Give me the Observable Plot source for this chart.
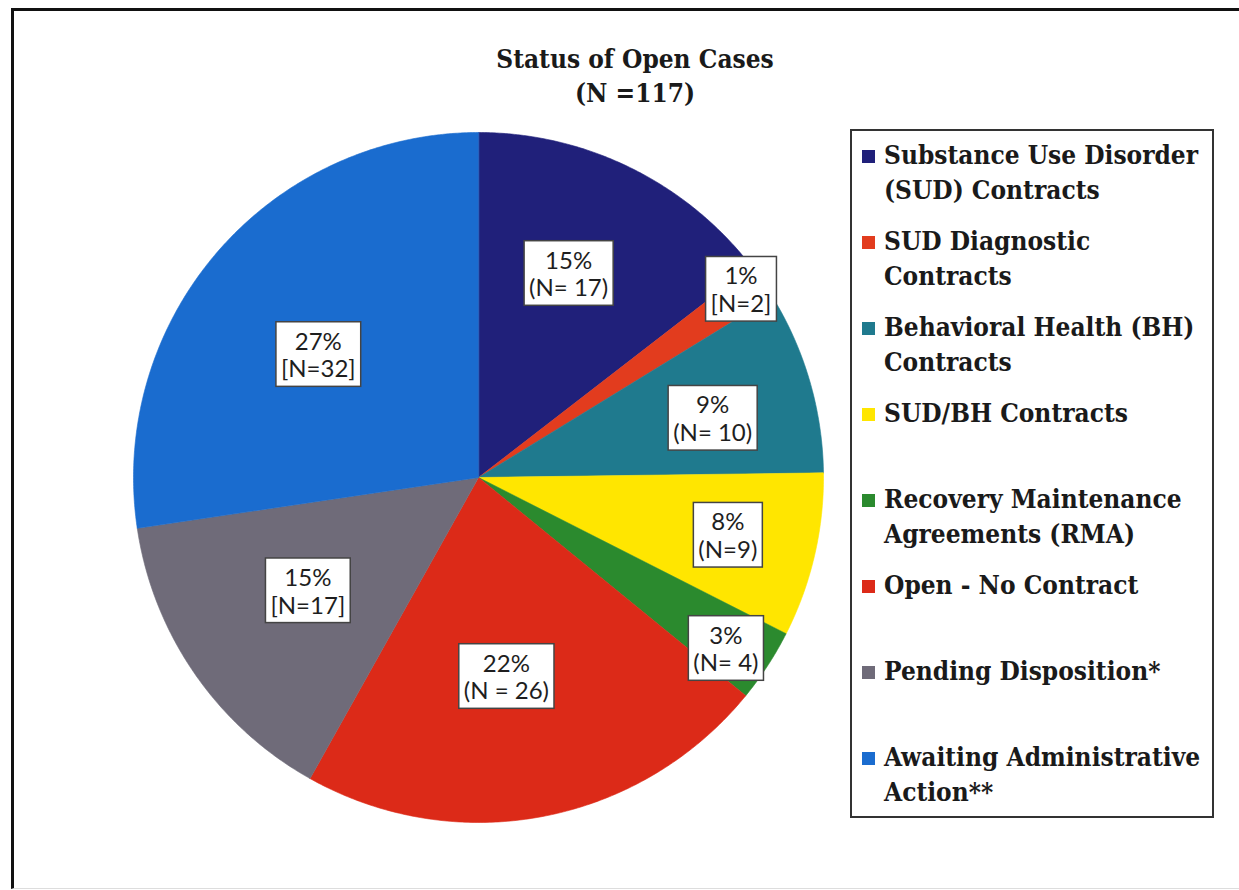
<!DOCTYPE html>
<html>
<head>
<meta charset="utf-8">
<script src="https://cdn.jsdelivr.net/npm/d3@7"></script>
<script src="https://cdn.jsdelivr.net/npm/@observablehq/plot@0.6"></script>
<style>
  html, body { margin: 0; padding: 0; background: #fff; }
  #page { position: relative; width: 1239px; height: 890px; overflow: hidden; background: #fff; }
  #frame { position: absolute; left: 11px; top: 8px; width: 1300px; height: 877px;
           border-top: 3px solid #111; border-left: 3px solid #111; border-bottom: 1px solid #ddd; }
  .serif { font-family: "DejaVu Serif Condensed", "DejaVu Serif", serif; font-stretch: condensed; font-weight: bold; color: #1a1a1a; }
  #title { position: absolute; left: 435px; width: 400px; top: 42px; text-align: center;
           font-size: 26px; line-height: 34px; }
  #legend { position: absolute; left: 850px; top: 129px; width: 360px; height: 685px;
            border: 2px solid #333; background: #fff; }
  .item { position: absolute; left: 32px; font-size: 26px; line-height: 35px; white-space: pre; }
  .sw { position: absolute; left: 10px; width: 13px; height: 13px; }
  #chart { position: absolute; left: 0; top: 0; }
</style>
</head>
<body>
<div id="page">
  <div id="frame"></div>
  <div id="chart"></div>
  <div id="title" class="serif"></div>
  <div id="legend"></div>
</div>
<script>
// ---- data ----
const titleLines = ["Status of Open Cases", "(N =117)"];
const categories = [
  "Substance Use Disorder\n(SUD) Contracts",
  "SUD Diagnostic\nContracts",
  "Behavioral Health (BH)\nContracts",
  "SUD/BH Contracts",
  "Recovery Maintenance\nAgreements (RMA)",
  "Open - No Contract",
  "Pending Disposition*",
  "Awaiting Administrative\nAction**"
];
const counts = [17, 2, 10, 9, 4, 26, 17, 32];
const pctLabels = ["15%", "1%", "9%", "8%", "3%", "22%", "15%", "27%"];
const nLabels = ["(N= 17)", "[N=2]", "(N= 10)", "(N=9)", "(N= 4)", "(N = 26)", "[N=17]", "[N=32]"];
const colors = ["#20207a", "#e23c1e", "#1f7a8e", "#ffe600", "#2b8a2e", "#dc2a18", "#6f6b79", "#1a6ccf"];

// ---- layout ----
const W = 1239, H = 890, cx = 478, cy = 477, R = 345;
const labelRadius = [0.646, 0.936, 0.70, 0.742, 0.872, 0.583, 0.594, 0.585];
const labelAngleShift = [-2.3, -1, 2, 0, 1.6, 2.8, 1, -3.3]; // degrees

const arcs = d3.pie().sort(null).value(d => d)(counts);
const pts = [];
arcs.forEach((a, i) => {
  const cat = categories[i];
  pts.push({cat, x: 0, y: 0});
  const n = Math.max(2, Math.ceil((a.endAngle - a.startAngle) / (Math.PI / 360)));
  for (let k = 0; k <= n; k++) {
    const t = a.startAngle + (a.endAngle - a.startAngle) * k / n;
    pts.push({cat, x: Math.sin(t), y: Math.cos(t)});
  }
});
const labels = arcs.map((a, i) => {
  const m = (a.startAngle + a.endAngle) / 2 + labelAngleShift[i] * Math.PI / 180;
  return {x: labelRadius[i] * Math.sin(m), y: labelRadius[i] * Math.cos(m), text: pctLabels[i] + "\n" + nLabels[i]};
});

const plot = Plot.plot({
  width: W, height: H, margin: 0,
  style: {background: "transparent", overflow: "visible"},
  x: {domain: [-cx / R, (W - cx) / R], axis: null},
  y: {domain: [-(H - cy) / R, cy / R], axis: null},
  color: {domain: categories, range: colors},
  marks: [
    Plot.line(pts, {x: "x", y: "y", z: "cat", fill: "cat", stroke: "cat", strokeWidth: 0.6, curve: "linear-closed"}),
    Plot.text(labels, {x: "x", y: "y", text: "text", fontSize: 24, fontFamily: "Lato", lineHeight: 1.15, fill: "#1e1e1e"})
  ]
});
document.getElementById("chart").appendChild(plot);

// title
document.getElementById("title").innerHTML = titleLines.join("<br>");

// legend
const lg = document.getElementById("legend");
categories.forEach((c, i) => {
  const top = 7 + i * 86;
  const it = document.createElement("div");
  it.className = "item serif";
  it.style.top = top + "px";
  it.textContent = c;
  lg.appendChild(it);
  const sw = document.createElement("div");
  sw.className = "sw";
  sw.style.top = (top + 12) + "px";
  sw.style.background = colors[i];
  lg.appendChild(sw);
});

// label boxes
function boxes() {
  const ns = "http://www.w3.org/2000/svg";
  plot.querySelectorAll('g[aria-label="text"] > text').forEach(t => {
    const b = t.getBBox();
    const r = document.createElementNS(ns, "rect");
    const px = 5, py = 4;
    r.setAttribute("x", b.x - px);
    r.setAttribute("y", b.y - py);
    r.setAttribute("width", b.width + 2 * px);
    r.setAttribute("height", b.height + 2 * py);
    r.setAttribute("fill", "#fff");
    r.setAttribute("stroke", "#444");
    r.setAttribute("stroke-width", "1.5");
    if (t.getAttribute("transform")) r.setAttribute("transform", t.getAttribute("transform"));
    t.parentNode.insertBefore(r, t);
  });
}
document.fonts.ready.then(boxes);
</script>
</body>
</html>
